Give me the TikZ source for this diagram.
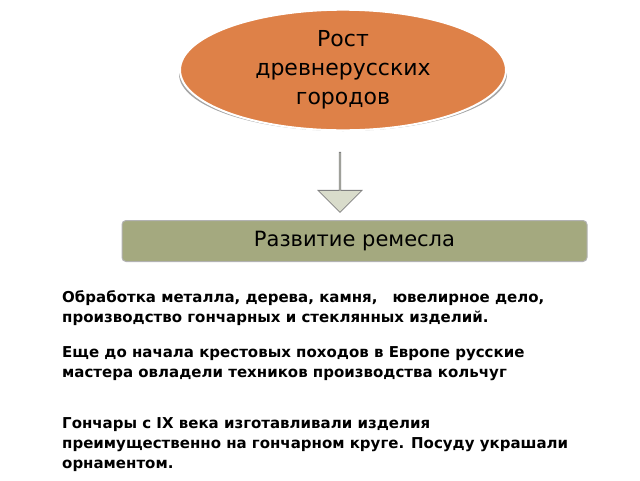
\documentclass[tikz,border=0pt]{standalone}
\usepackage{fontspec}
\setmainfont{DejaVu Sans}
\usetikzlibrary{shapes.geometric,shapes.arrows,shadows}
\definecolor{orng}{HTML}{DE8148}
\definecolor{olive}{HTML}{A4A97F}
\definecolor{arr}{HTML}{D9DCCB}
\tikzset{body/.style={anchor=north west,align=left,font=\fontsize{15}{20}\selectfont\bfseries,inner sep=0pt}}
\begin{document}
\begin{tikzpicture}[x=1pt,y=-1pt]
\useasboundingbox (0,0) rectangle (640,480);
\fill[gray!70] (343,74) ellipse (164 and 57);
\node[ellipse,fill=orng,draw=white,line width=2pt,minimum width=326,minimum height=112,align=center,font=\fontsize{22}{29}\selectfont] (e) at (343,70) {Рост\\древнерусских\\городов};
\node[single arrow,shape border rotate=270,fill=arr,draw=gray,line width=0.8pt,minimum width=44,minimum height=60,single arrow head extend=11,single arrow tip angle=90,inner sep=0pt] (a) at (340,182) {};
\node[rounded corners=4pt,fill=olive,draw=gray!60,line width=1pt,minimum width=465,minimum height=41,font=\fontsize{21}{26}\selectfont] (r) at (354.5,241) {Развитие ремесла};
\node[body] (t1) at (62,290) {Обработка металла, дерева, камня,\quad ювелирное дело,\\производство гончарных и стеклянных изделий.};
\node[body] (t2) at (62,346) {Еще до начала крестовых походов в Европе русские\\мастера овладели техников производства кольчуг};
\node[body] (t3) at (62,417) {Гончары с IX века изготавливали изделия\\преимущественно на гончарном круге. Посуду украшали\\орнаментом.};
\end{tikzpicture}
\end{document}
